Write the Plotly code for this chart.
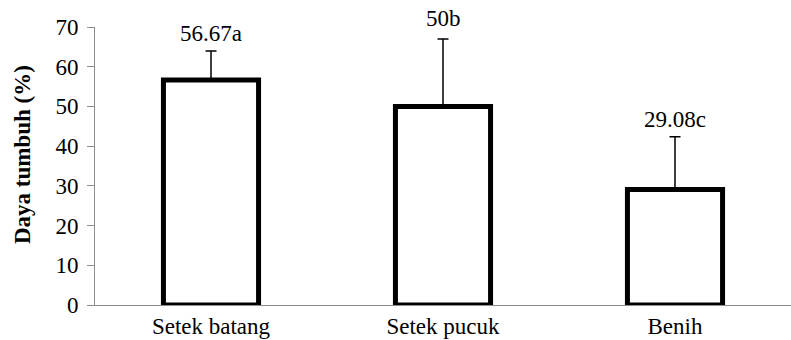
import plotly.graph_objects as go

categories = ["Setek batang", "Setek pucuk", "Benih"]
values = [56.67, 50.0, 29.08]
err_plus = [7.3, 17.0, 13.3]
err_minus = [0.0, 0.0, 0.0]
labels = ["56.67a", "50b", "29.08c"]
y_ticks = [0, 10, 20, 30, 40, 50, 60, 70]

FONT = "Liberation Serif"
FS = 23

fig = go.Figure()
fig.add_trace(go.Bar(
    x=categories, y=values, width=0.41,
    marker=dict(color="white", line=dict(color="black", width=5)),
    error_y=dict(type="data", array=err_plus, arrayminus=err_minus, symmetric=False,
                 color="black", thickness=1.5, width=5.5),
    showlegend=False,
))

label_shift = [3, 6, 3]
for c, v, e, t, s in zip(categories, values, err_plus, labels, label_shift):
    fig.add_annotation(x=c, y=v + e, text=t, showarrow=False, yanchor="bottom",
                       yshift=s, font=dict(family=FONT, size=FS, color="black"))

# y-axis title placed as rotated text
fig.add_annotation(xref="paper", yref="paper", x=-73 / 696, y=150 / 278,
                   text="<b>Daya tumbuh (%)</b>", textangle=-90, showarrow=False,
                   xanchor="center", yanchor="middle",
                   font=dict(family=FONT, size=FS, color="black"))

fig.update_layout(
    width=791, height=340,
    margin=dict(l=95, r=0, t=27, b=35, autoexpand=False),
    plot_bgcolor="white", paper_bgcolor="white",
    font=dict(family=FONT, size=FS, color="black"),
    bargap=0.59,
)
fig.update_xaxes(showline=True, linecolor="#8c8c8c", linewidth=1, ticks="",
                 showgrid=False, tickfont=dict(family=FONT, size=FS), range=[-0.5, 2.5],
                 automargin=False)
fig.update_yaxes(range=[0, 70], tickvals=y_ticks, showline=True, linecolor="#8c8c8c",
                 linewidth=1, ticks="outside", ticklen=7, tickcolor="#8c8c8c",
                 showgrid=False, zeroline=False, tickfont=dict(family=FONT, size=FS),
                 ticklabelstandoff=4, automargin=False)

fig.write_html("out.html", config={"displayModeBar": False})
with open("out.html", "r", encoding="utf-8") as f:
    html = f.read()
html = html.replace("<head>", "<head><style>html,body{margin:0;padding:0;overflow:hidden;}</style>", 1)
with open("out.html", "w", encoding="utf-8") as f:
    f.write(html)
